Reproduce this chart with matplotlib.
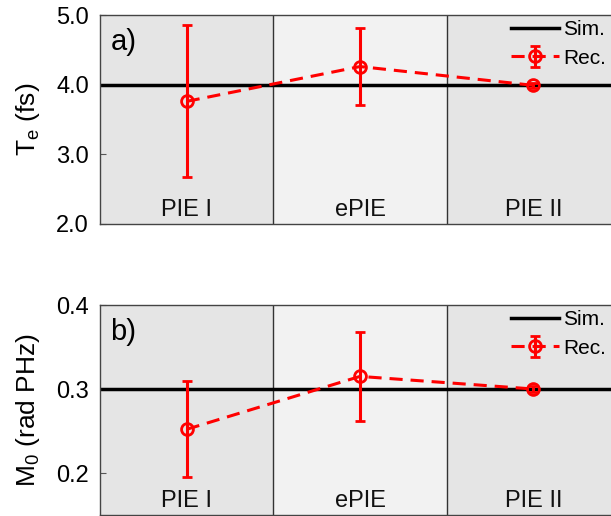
import matplotlib
matplotlib.use("Agg")
import matplotlib.pyplot as plt
import numpy as np

plt.rcParams['font.family'] = ['Liberation Sans', 'DejaVu Sans']
plt.rcParams['mathtext.fontset'] = 'custom'
plt.rcParams['mathtext.rm'] = 'Liberation Sans'

methods = ["PIE I", "ePIE", "PIE II"]
te_rec = [3.76, 4.26, 3.99]
te_err = [1.09, 0.55, 0.04]
te_sim = 4.0
m0_rec = [0.252, 0.315, 0.300]
m0_err = [0.057, 0.053, 0.003]
m0_sim = 0.3

fig = plt.figure(figsize=(6.11, 5.16), dpi=100)
W, H = 611, 516
ax1 = fig.add_axes([100 / W, 1 - 224 / H, 520 / W, 209 / H])
ax2 = fig.add_axes([100 / W, 1 - 515 / H, 520 / W, 210 / H])

panels = [
    (ax1, te_rec, te_err, te_sim, (2.0, 5.0), [2.0, 3.0, 4.0, 5.0], ["2.0", "3.0", "4.0", "5.0"], "T$_\\mathregular{e}$ (fs)", "a)"),
    (ax2, m0_rec, m0_err, m0_sim, (0.15, 0.4), [0.2, 0.3, 0.4], ["0.2", "0.3", "0.4"], "M$_\\mathregular{0}$ (rad PHz)", "b)"),
]
bg = ["#e5e5e5", "#f2f2f2", "#e5e5e5"]
for ax, rec, err, sim, ylim, ticks, tlabels, ylabel, tag in panels:
    x = np.arange(len(methods)) + 0.5
    for i, m in enumerate(methods):
        ax.axvspan(i, i + 1, color=bg[i], zorder=0, lw=0)
        if i > 0:
            ax.axvline(i, color="#333333", lw=1.0, zorder=1)
        ax.text(i + 0.5, ylim[0] + 0.065 * (ylim[1] - ylim[0]), m,
                ha="center", va="center", fontsize=17, color="#111111")
    ax.axhline(sim, color="black", lw=2.5, zorder=2, label="Sim.")
    ax.errorbar(x, rec, yerr=err, color="red", ls="--", lw=2.2, marker="o",
                mfc="none", mec="red", ms=8.5, mew=2.0, capsize=3.8, capthick=2.2,
                elinewidth=2.2, dashes=(4.3, 2.6), zorder=3, label="Rec.")
    ax.set_xlim(0, 3)
    ax.set_ylim(*ylim)
    ax.set_xticks([])
    ax.set_yticks(ticks)
    ax.set_yticklabels(tlabels)
    ax.tick_params(axis="y", direction="in", length=4, labelsize=17, pad=8, color="#555555")
    for s in ax.spines.values():
        s.set_color("#444444")
        s.set_linewidth(1.0)
    ax.set_ylabel(ylabel, fontsize=19, labelpad=10)
    ax.text(0.02, 0.94, tag, transform=ax.transAxes, fontsize=21, va="top", ha="left")
    ax.legend(loc="upper left", bbox_to_anchor=(0.782, 0.995), frameon=False,
              fontsize=15, handlelength=2.3, handletextpad=0.2, labelspacing=0.45,
              borderaxespad=0.0, borderpad=0.2)

fig.savefig("out.png", dpi=100)
